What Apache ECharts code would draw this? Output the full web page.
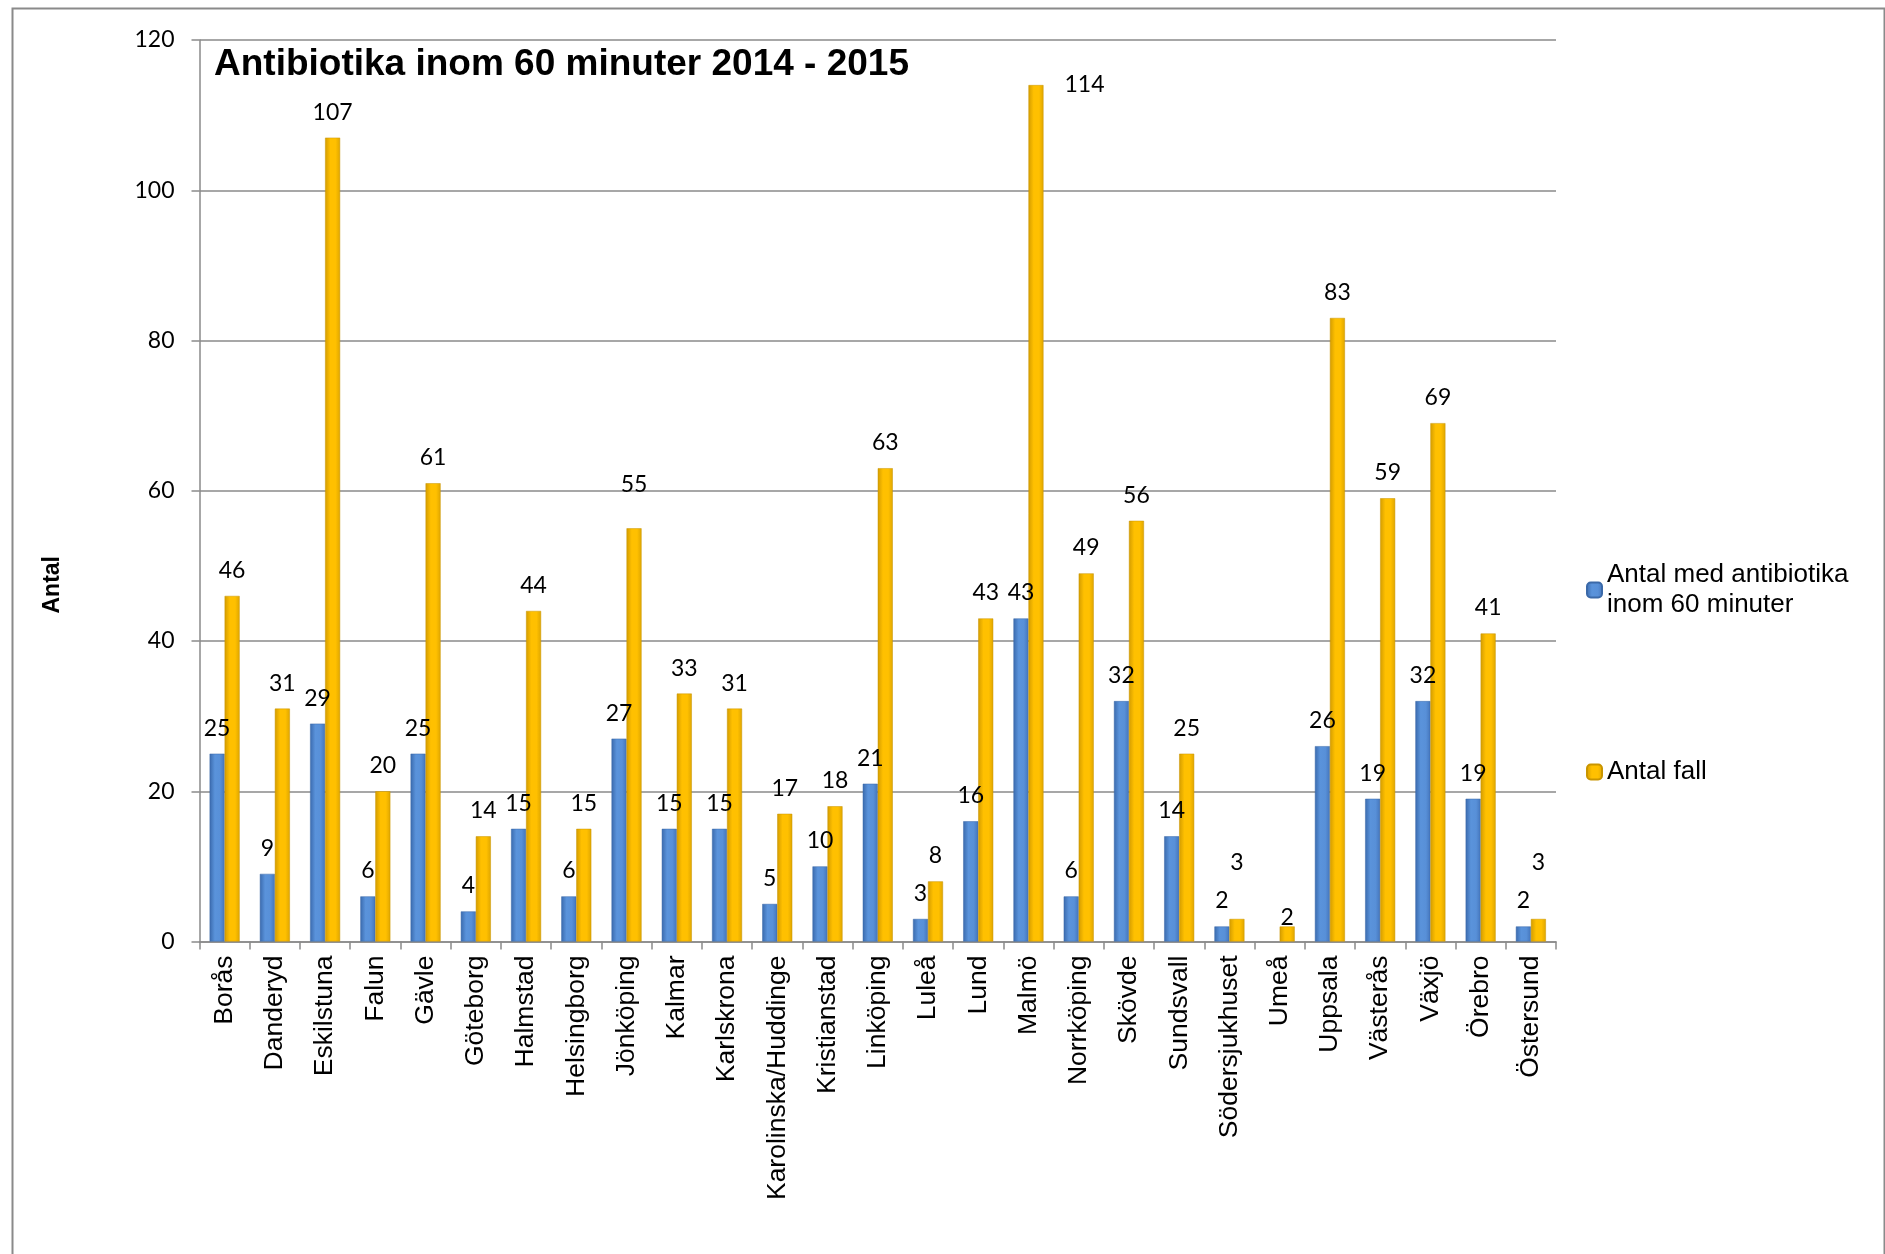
<!DOCTYPE html>
<html><head><meta charset="utf-8">
<script src="https://cdn.jsdelivr.net/npm/echarts@6/dist/echarts.min.js"></script>
<style>html,body{margin:0;padding:0;background:#fff}#c{width:1885px;height:1254px}</style>
</head><body><div id="c"></div>
<script>
const categories = ['Borås','Danderyd','Eskilstuna','Falun','Gävle','Göteborg','Halmstad','Helsingborg','Jönköping','Kalmar','Karlskrona','Karolinska/Huddinge','Kristianstad','Linköping','Luleå','Lund','Malmö','Norrköping','Skövde','Sundsvall','Södersjukhuset','Umeå','Uppsala','Västerås','Växjö','Örebro','Östersund'];
const antalMedAntibiotika = [25,9,29,6,25,4,15,6,27,15,15,5,10,21,3,16,43,6,32,14,2,null,26,19,32,19,2];
const antalFall = [46,31,107,20,61,14,44,15,55,33,31,17,18,63,8,43,114,49,56,25,3,2,83,59,69,41,3];
const seriesNames = ['Antal med antibiotika\ninom 60 minuter','Antal fall'];
const yMin = 0, yMax = 120, yStep = 20;

// label placement tweaks (style only)
const fallLabelTweaks = {
  8: {offset:[0,-18]},
  16: {position:[36,0], align:'left', verticalAlign:'middle'},
  20: {offset:[0,-31]},
  21: {offset:[0,17]},
  26: {offset:[0,-31]}
};

const chart = echarts.init(document.getElementById('c'), null, {renderer:'canvas'});
const G = echarts.graphic;
const blue = new G.LinearGradient(0,0,1,0,[
  {offset:0,color:'#3a6aad'},{offset:0.35,color:'#5a93db'},{offset:0.7,color:'#5890d8'},{offset:1,color:'#4475bb'}]);
const yellow = new G.LinearGradient(0,0,1,0,[
  {offset:0,color:'#d39c00'},{offset:0.35,color:'#ffc000'},{offset:0.7,color:'#ffc000'},{offset:1,color:'#dfa600'}]);

const labelFont = {fontFamily:'Lato', fontSize:23, color:'#000'};

chart.setOption({
  animation:false,
  backgroundColor:'#fff',
  title:{
    text:'Antibiotika inom 60 minuter 2014 - 2015',
    left:214, top:46, padding:0,
    textStyle:{fontFamily:'Liberation Sans', fontWeight:'bold', fontSize:37, color:'#000'}
  },
  legend:{
    orient:'vertical', left:1586, top:545, padding:0, itemGap:122,
    itemWidth:15, itemHeight:15,
    textStyle:{fontFamily:'Liberation Sans', fontSize:26, color:'#000', lineHeight:30},
    data:[
      {name:seriesNames[0], textStyle:{padding:[30,0,0,0]}},
      {name:seriesNames[1]}
    ]
  },
  grid:{left:199.5, right:329, top:40, bottom:312.5, containLabel:false},
  xAxis:{
    type:'category', data:categories, boundaryGap:true,
    axisLine:{lineStyle:{color:'#8a8a8a', width:1.5}},
    axisTick:{show:true, length:8, interval:0, lineStyle:{color:'#8a8a8a', width:1.5}},
    axisLabel:{rotate:90, interval:0, margin:14, fontFamily:'Liberation Sans', fontSize:26.5, color:'#000'}
  },
  yAxis:{
    type:'value', min:yMin, max:yMax, interval:yStep,
    axisLine:{show:true, lineStyle:{color:'#8a8a8a', width:1.5}},
    axisTick:{show:true, length:8, lineStyle:{color:'#8a8a8a', width:1.5}},
    axisLabel:{margin:25, fontFamily:'Lato', fontSize:23, color:'#000'},
    splitLine:{show:true, lineStyle:{color:'#8a8a8a', width:1.5}}
  },
  graphic:[
    {type:'rect', left:10, top:6, shape:{width:1872, height:1300}, style:{fill:'none', stroke:'#8a8a8a', lineWidth:2}, silent:true},
    {type:'text', left:41, top:556, rotation:Math.PI/2,
     style:{text:'Antal', font:'bold 23px "Liberation Sans"', fill:'#000'}}
  ],
  series:[
    {
      name:seriesNames[0], type:'bar', barWidth:15, barGap:'0%',
      itemStyle:{color:blue, borderColor:'#3b69a8', borderWidth:0.5},
      label:{show:true, position:'top', distance:14, ...labelFont},
      data:antalMedAntibiotika
    },
    {
      name:seriesNames[1], type:'bar', barWidth:15, barGap:'0%',
      itemStyle:{color:yellow, borderColor:'#c99500', borderWidth:0.5},
      label:{show:true, position:'top', distance:14, ...labelFont},
      data:antalFall.map((v,i)=> fallLabelTweaks[i] ? {value:v, label:fallLabelTweaks[i]} : v)
    }
  ]
});
</script></body></html>
